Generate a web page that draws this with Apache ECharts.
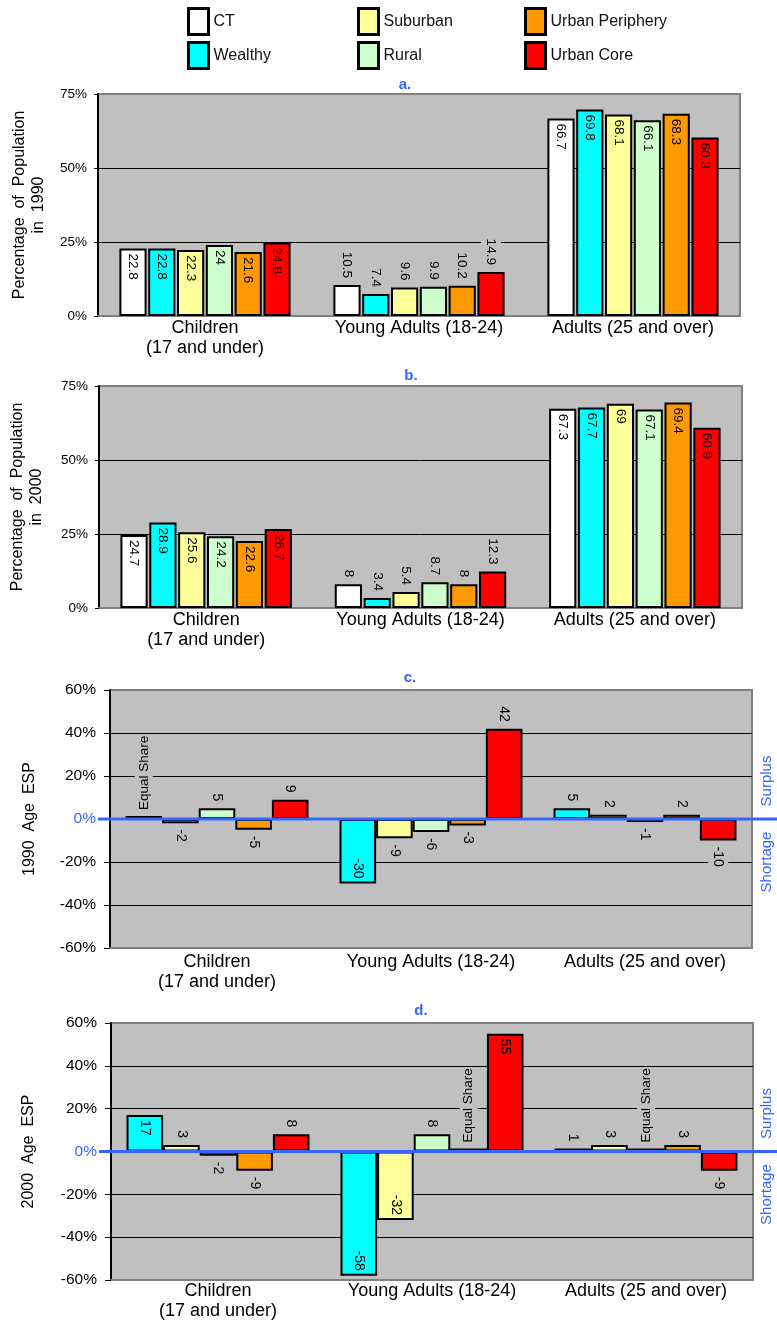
<!DOCTYPE html>
<html><head><meta charset="utf-8">
<script src="https://cdn.jsdelivr.net/npm/echarts@6.0.0/dist/echarts.min.js"></script>
<style>html,body{margin:0;padding:0;background:#fff}#chart{width:777px;height:1324px}</style>
</head><body><div id="chart"></div>
<script>
// ---------- data ----------
const categories = ['Children\n(17 and under)', 'Young Adults (18-24)', 'Adults (25 and over)'];
const groups = ['CT', 'Wealthy', 'Suburban', 'Rural', 'Urban Periphery', 'Urban Core'];
const espGroups = ['Wealthy', 'Suburban', 'Rural', 'Urban Periphery', 'Urban Core'];
// a. percentage of population in 1990 (rows follow `groups`)
const pop1990 = [
  [22.8, 10.5, 66.7],
  [22.8, 7.4, 69.8],
  [22.3, 9.6, 68.1],
  [24, 9.9, 66.1],
  [21.6, 10.2, 68.3],
  [24.8, 14.9, 60.3]
];
// b. percentage of population in 2000
const pop2000 = [
  [24.7, 8, 67.3],
  [28.9, 3.4, 67.7],
  [25.6, 5.4, 69],
  [24.2, 8.7, 67.1],
  [22.6, 8, 69.4],
  [26.7, 12.3, 60.9]
];
// c. 1990 age ESP (rows follow `espGroups`)
const esp1990 = [
  [0, -30, 5],
  [-2, -9, 2],
  [5, -6, -1],
  [-5, -3, 2],
  [9, 42, -10]
];
// d. 2000 age ESP
const esp2000 = [
  [17, -58, 1],
  [3, -32, 3],
  [-2, 8, 0],
  [-9, 0, 3],
  [8, 55, -9]
];
const popTicks = {min: 0, max: 75, interval: 25};
const espTicks = {min: -60, max: 60, interval: 20};
const zeroLabel = 'Equal Share';

// ---------- styling ----------
const FONT = "'Liberation Sans', Arial, sans-serif";
const BLUE = '#3366FF';
const PLOT_BG = '#C0C0C0';
const colorOf = {'CT': '#FFFFFF', 'Wealthy': '#00FFFF', 'Suburban': '#FFFF99', 'Rural': '#CCFFCC', 'Urban Periphery': '#FF9900', 'Urban Core': '#FF0000'};
// labels that sit outside the bar although the bar is tall
const outsideOverride = [['c', 'Urban Core', 1]];

const panels = [
  {key: 'a', kind: 'pop', data: pop1990, names: groups, left: 98, right: 37, top: 94, height: 222,
   yName: 'Percentage  of  Population\nin  1990', nameGap: 50, catMargin: 2, tx: 405, ty: 85},
  {key: 'b', kind: 'pop', data: pop2000, names: groups, left: 99, right: 35, top: 386, height: 222,
   yName: 'Percentage  of  Population\nin  2000', nameGap: 53, catMargin: 2, tx: 411, ty: 376},
  {key: 'c', kind: 'esp', data: esp1990, names: espGroups, left: 110, right: 25, top: 690, height: 258,
   yName: '1990  Age  ESP', nameGap: 71, catMargin: 4, tx: 410, ty: 678},
  {key: 'd', kind: 'esp', data: esp2000, names: espGroups, left: 111, right: 24, top: 1023, height: 257,
   yName: '2000  Age  ESP', nameGap: 73, catMargin: 1, tx: 421, ty: 1011}
];

function isOverride(p, name, ci) {
  return outsideOverride.some(o => o[0] === p.key && o[1] === name && o[2] === ci);
}

function labelFor(p, v, name, ci) {
  const fs = p.kind === 'pop' ? 13.5 : 14;
  const base = {show: true, rotate: -90, verticalAlign: 'middle', color: '#000', fontFamily: FONT, fontSize: fs};
  if (p.kind === 'esp' && v === 0) {
    return Object.assign({}, base, {formatter: zeroLabel, rotate: 90, position: 'top', align: 'left',
      distance: 5, fontSize: 13.5, backgroundColor: PLOT_BG, padding: [2, 1]});
  }
  const outside = Math.abs(v) < 15 || isOverride(p, name, ci);
  if (outside) {
    return Object.assign({}, base, v > 0
      ? {position: 'top', align: 'right', distance: 6, backgroundColor: PLOT_BG, padding: [3, 1]}
      : {position: 'bottom', align: 'left', distance: 5, backgroundColor: PLOT_BG, padding: [3, 1]});
  }
  return Object.assign({}, base, v > 0
    ? {position: 'insideTop', align: 'left', distance: 5}
    : {position: 'insideBottom', align: 'right', distance: 5});
}

const grids = [], xAxes = [], yAxes = [], series = [];
panels.forEach((p, i) => {
  grids.push({left: p.left, right: p.right, top: p.top, height: p.height, show: true,
    backgroundColor: PLOT_BG, borderColor: '#808080', borderWidth: 2, containLabel: false, outerBoundsMode: 'none'});
  xAxes.push({type: 'category', gridIndex: i, data: categories, position: 'bottom',
    axisLine: {show: true, onZero: false, lineStyle: {color: '#808080', width: 2}},
    axisTick: {show: false},
    axisLabel: {interval: 0, margin: p.catMargin, fontFamily: FONT, fontSize: 18, lineHeight: 20, color: '#000'}});
  const t = p.kind === 'pop' ? popTicks : espTicks;
  const nLines = Math.round((t.max - t.min) / t.interval) + 1;
  const splitColors = [];
  for (let k = 0; k < nLines; k++) splitColors.push(k === 0 || k === nLines - 1 ? '#808080' : '#000');
  yAxes.push({type: 'value', gridIndex: i, min: t.min, max: t.max, interval: t.interval,
    name: p.yName, nameLocation: 'middle', nameGap: p.nameGap, nameRotate: 90,
    nameTextStyle: {fontFamily: FONT, fontSize: 16, lineHeight: 19, color: '#000', align: 'center'},
    axisLine: {show: true, lineStyle: {color: '#000', width: 2}},
    axisTick: {show: true, length: p.kind === 'pop' ? 4 : 6, lineStyle: {color: '#000', width: 1}},
    splitLine: {show: true, lineStyle: {color: splitColors, width: 1}},
    axisLabel: {formatter: '{value}%', margin: p.kind === 'pop' ? 11 : 14, fontFamily: FONT,
      fontSize: p.kind === 'pop' ? 13.5 : 15.5,
      color: p.kind === 'pop' ? '#000' : (v => (Number(v) === 0 ? BLUE : '#000'))}});
  p.names.forEach((name, si) => {
    series.push({type: 'bar', name: name, xAxisIndex: i, yAxisIndex: i,
      barGap: p.kind === 'pop' ? '6%' : '0%', barCategoryGap: p.kind === 'pop' ? '20%' : '14.5%',
      barMinHeight: p.kind === 'esp' ? 3 : 0,
      itemStyle: {color: colorOf[name], borderColor: '#000', borderWidth: 2},
      emphasis: {disabled: true},
      data: p.data[si].map((v, ci) => ({value: v, label: labelFor(p, v, name, ci)}))});
  });
});

const legends = [[0, 1], [2, 3], [4, 5]].map((idx, k) => ({
  orient: 'vertical', left: [187, 357, 524][k], top: 7, padding: 0,
  data: idx.map(j => groups[j]), icon: 'rect', itemWidth: 20, itemHeight: 26, itemGap: 5,
  selectedMode: false, itemStyle: {borderColor: '#000', borderWidth: 3},
  textStyle: {fontFamily: FONT, fontSize: 16, color: '#111'}
}));

const chart = echarts.init(document.getElementById('chart'), null, {renderer: 'canvas'});
chart.setOption({
  animation: false,
  backgroundColor: '#fff',
  legend: legends,
  grid: grids, xAxis: xAxes, yAxis: yAxes, series: series
});

// overlays positioned from the library's own scales
const graphics = [];
panels.forEach((p, i) => {
  graphics.push({type: 'text', x: p.tx, y: p.ty, z: 20,
    style: {text: p.key + '.', fill: BLUE, font: 'bold 15px ' + FONT, textAlign: 'center', textVerticalAlign: 'middle'}});
  if (p.kind === 'esp') {
    const zy = chart.convertToPixel({yAxisIndex: i}, 0);
    graphics.push({type: 'line', z: 20, shape: {x1: p.left - 12, y1: zy, x2: 777, y2: zy},
      style: {stroke: BLUE, lineWidth: 3}});
    graphics.push({type: 'text', x: 767, y: zy - 38, rotation: Math.PI / 2, z: 20,
      style: {text: 'Surplus', fill: BLUE, font: '15px ' + FONT, textAlign: 'center', textVerticalAlign: 'middle'}});
    graphics.push({type: 'text', x: 767, y: zy + 43, rotation: Math.PI / 2, z: 20,
      style: {text: 'Shortage', fill: BLUE, font: '15px ' + FONT, textAlign: 'center', textVerticalAlign: 'middle'}});
  }
});
chart.setOption({graphic: {elements: graphics}});
</script>
</body></html>
